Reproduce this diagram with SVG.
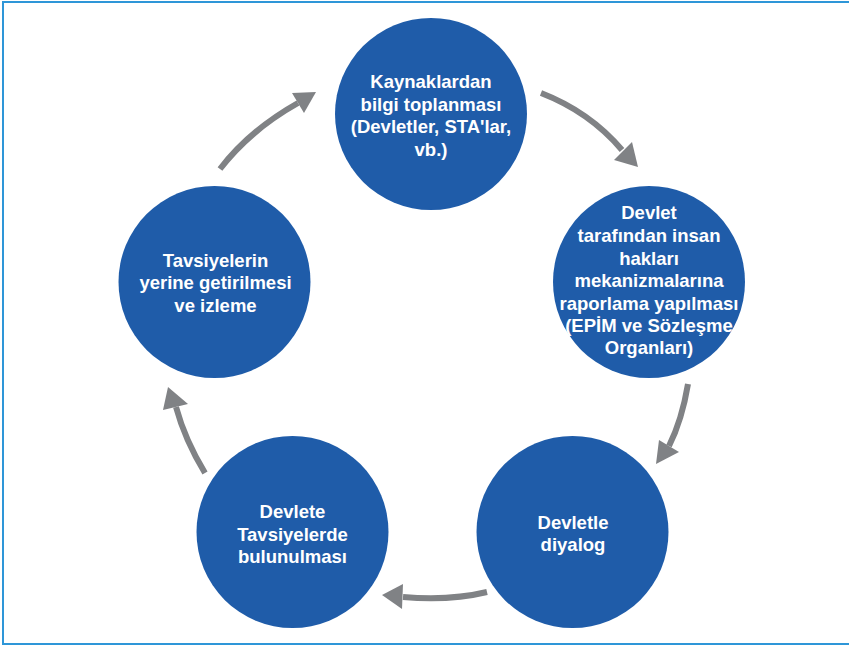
<svg xmlns="http://www.w3.org/2000/svg" width="849" height="646" viewBox="0 0 849 646">
<style>
.node circle{fill:#1f5ca9}
.node text{fill:#ffffff;font-family:"Liberation Sans",Arial,sans-serif;font-weight:bold;font-size:18.5px;text-anchor:middle}
.conn path{fill:none;stroke:#808285;stroke-width:6}
.conn polygon{fill:#808285}
</style>
<rect x="3" y="2" width="852" height="642" fill="#ffffff" stroke="#2e96d8" stroke-width="2"/>
<g class="conn" id="connectors">
<path d="M541,93 Q590,112 622,150"/>
<polygon points="638,167 614,160 632,142"/>
<path d="M688,384 Q682,420 669,446"/>
<polygon points="656,464 659,440 679,452"/>
<path d="M487,592 Q450,601 403,597"/>
<polygon points="382,595 403,584 402,609"/>
<path d="M205,473 Q185,440 176,407"/>
<polygon points="168,387 163,410 188,404"/>
<path d="M220,169 Q250,130 298,103"/>
<polygon points="316,92 292,93 304,113"/>
</g>
<g class="node" id="n1">
<circle cx="431" cy="114" r="96"/>
<text x="431" y="88">Kaynaklardan</text>
<text x="431" y="110.5">bilgi toplanması</text>
<text x="431" y="133">(Devletler, STA'lar,</text>
<text x="431" y="155.5">vb.)</text>
</g>
<g class="node" id="n2">
<circle cx="649" cy="282" r="96"/>
<text x="649" y="219">Devlet</text>
<text x="649" y="242">tarafından insan</text>
<text x="649" y="264.5">hakları</text>
<text x="649" y="287">mekanizmalarına</text>
<text x="649" y="309.5">raporlama yapılması</text>
<text x="649" y="332">(EPİM ve Sözleşme</text>
<text x="649" y="354">Organları)</text>
</g>
<g class="node" id="n3">
<circle cx="572.5" cy="532" r="96"/>
<text x="573" y="529">Devletle</text>
<text x="573" y="551">diyalog</text>
</g>
<g class="node" id="n4">
<circle cx="292.5" cy="532" r="96"/>
<text x="292.5" y="518">Devlete</text>
<text x="292.5" y="541">Tavsiyelerde</text>
<text x="292.5" y="563">bulunulması</text>
</g>
<g class="node" id="n5">
<circle cx="214.5" cy="282" r="96"/>
<text x="215.5" y="267">Tavsiyelerin</text>
<text x="215.5" y="289">yerine getirilmesi</text>
<text x="215.5" y="312">ve izleme</text>
</g>
</svg>
